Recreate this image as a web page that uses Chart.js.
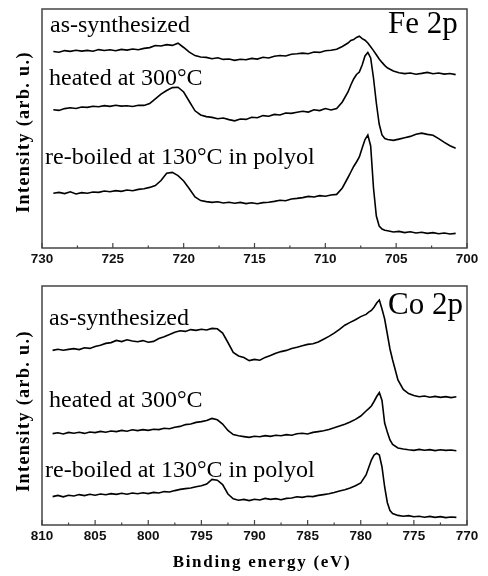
<!DOCTYPE html>
<html>
<head>
<meta charset="utf-8">
<script src="https://cdn.jsdelivr.net/npm/chart.js@4.4.1/dist/chart.umd.min.js"></script>
<style>
  html, body { margin: 0; background: #fff; }
  #wrap { position: relative; width: 488px; height: 576px; }
  canvas { position: absolute; left: 0; }
  #fe { top: 0; }
  #co { top: 270px; }
</style>
</head>
<body>
<div id="wrap">
  <canvas id="fe" width="488" height="270"></canvas>
  <canvas id="co" width="488" height="306"></canvas>
</div>
<script>
// Fe 2p panel, binding energy (eV) and intensity (arb. u.)
const feEnergy = [729.2, 728.8, 728.4, 728.0, 727.6, 727.2, 726.8, 726.4, 726.0, 725.6,
  725.2, 724.8, 724.4, 724.0, 723.6, 723.2, 722.8, 722.4, 722.0, 721.6,
  721.2, 720.8, 720.4, 720.0, 719.6, 719.2, 718.8, 718.4, 718.0, 717.6,
  717.2, 716.8, 716.4, 716.0, 715.6, 715.2, 714.8, 714.4, 714.0, 713.6,
  713.2, 712.8, 712.4, 712.0, 711.6, 711.2, 710.8, 710.4, 710.0, 709.6,
  709.2, 708.8, 708.4, 708.2, 708.0, 707.8, 707.6, 707.4, 707.2, 707.0,
  706.8, 706.6, 706.4, 706.2, 706.0, 705.8, 705.6, 705.2, 704.8, 704.4,
  704.0, 703.6, 703.2, 702.8, 702.4, 702.0, 701.6, 701.2, 700.8];

const feAsSynth = [196.5, 195.8, 197.4, 196.6, 197.8, 196.9, 197.6, 196.8, 198.4, 197.5,
  198.2, 197.3, 198.6, 197.9, 199.0, 198.2, 199.6, 200.4, 202.5, 202.0,
  203.4, 202.6, 204.8, 200.5, 195.8, 192.4, 191.0, 190.6, 189.3, 190.2,
  188.6, 189.0, 187.6, 188.8, 188.2, 189.6, 188.9, 190.8, 190.0, 191.8,
  192.5, 192.0, 193.8, 194.2, 194.9, 194.3, 196.0, 195.6, 197.2, 197.8,
  198.8, 201.5, 205.0, 207.5, 208.4, 210.6, 211.8, 209.4, 207.8, 205.0,
  201.2, 197.4, 193.2, 189.0, 185.6, 182.4, 180.0, 177.0, 175.2, 174.4,
  175.0, 173.8, 174.6, 175.6, 174.2, 175.0, 173.9, 174.5, 173.4];

const feHeated = [138.3, 137.6, 139.4, 140.2, 139.5, 141.0, 140.6, 141.8, 141.2, 142.4,
  141.6, 142.8, 141.9, 142.3, 141.5, 142.7, 142.6, 144.4, 149.2, 153.8,
  157.5, 160.4, 160.8, 156.0, 146.5, 137.2, 133.0, 131.4, 130.6, 129.2,
  130.0, 128.4, 127.2, 129.0, 128.6, 130.8, 130.2, 132.4, 131.8, 133.6,
  133.0, 135.0, 134.6, 135.8, 136.8, 135.9, 138.2, 137.4, 139.5, 138.0,
  139.5, 146.0, 156.0, 163.0, 169.0, 173.5, 176.0, 183.0, 192.0, 195.5,
  190.0, 170.0, 145.0, 124.0, 113.0, 109.5, 108.5, 107.6, 108.9, 110.2,
  111.6, 113.8, 114.9, 113.6, 112.8, 109.4, 105.6, 102.2, 99.8];

const feReboiled = [54.8, 55.6, 54.4, 56.2, 54.0, 55.4, 54.8, 56.0, 55.6, 57.0,
  56.2, 57.4, 56.6, 58.0, 57.2, 58.6, 59.2, 60.6, 62.4, 67.5,
  74.8, 75.6, 72.4, 67.0, 59.2, 51.0, 47.4, 46.4, 45.6, 46.2,
  45.0, 45.8, 44.8, 45.6, 44.4, 45.2, 44.2, 45.4, 45.8, 46.6,
  47.8, 47.2, 49.0, 49.6, 50.4, 51.6, 51.0, 52.4, 51.8, 53.0,
  53.6, 60.0, 70.5, 76.0, 81.5, 86.0, 91.0, 100.0, 108.5, 113.0,
  102.0, 60.0, 32.0, 22.0, 19.0, 17.8, 17.2, 16.0, 16.6, 15.4,
  16.2, 15.0, 15.8, 14.6, 15.4, 14.2, 15.0, 14.0, 14.6];

// Co 2p panel
const coEnergy = [809.0, 808.5, 808.0, 807.5, 807.0, 806.5, 806.0, 805.5, 805.0, 804.5,
  804.0, 803.5, 803.0, 802.5, 802.0, 801.5, 801.0, 800.5, 800.0, 799.5,
  799.0, 798.5, 798.0, 797.5, 797.0, 796.5, 796.0, 795.5, 795.0, 794.5,
  794.0, 793.5, 793.0, 792.5, 792.0, 791.5, 791.0, 790.5, 790.0, 789.5,
  789.0, 788.5, 788.0, 787.5, 787.0, 786.5, 786.0, 785.5, 785.0, 784.5,
  784.0, 783.5, 783.0, 782.5, 782.0, 781.5, 781.0, 780.5, 780.0, 779.5,
  779.25, 779.0, 778.75, 778.5, 778.25, 778.0, 777.75, 777.5, 777.25, 777.0,
  776.5, 776.0, 775.5, 775.0, 774.5, 774.0, 773.5, 773.0, 772.5, 772.0,
  771.5, 771.0];

const coAsSynth = [174.6, 175.8, 174.8, 175.6, 176.4, 175.4, 177.2, 176.6, 178.6, 179.8,
  181.6, 182.4, 184.6, 183.4, 185.2, 184.0, 183.2, 184.4, 182.8, 183.6,
  186.4, 188.2, 190.4, 192.8, 194.2, 193.6, 195.4, 194.6, 195.8, 195.0,
  196.6, 196.2, 192.0, 182.5, 172.5, 169.0, 167.4, 164.4, 165.6, 164.8,
  167.6, 169.4, 171.8, 173.4, 174.6, 176.6, 177.8, 179.2, 180.6, 181.2,
  183.0, 185.8, 188.6, 191.8, 195.6, 199.8, 202.6, 205.2, 208.4, 210.6,
  212.8, 214.6, 217.8, 222.0, 225.0, 216.0, 206.0, 191.0, 176.0, 165.0,
  145.0, 135.5, 131.4, 129.6, 128.2, 129.0, 127.8, 128.6, 127.6, 128.4,
  127.4, 128.2];

const coHeated = [91.4, 92.2, 91.0, 92.6, 91.8, 92.8, 91.6, 93.0, 92.4, 93.6,
  92.8, 94.0, 93.4, 94.6, 93.8, 95.2, 94.4, 95.4, 94.6, 95.8,
  95.4, 96.8, 96.2, 97.8, 98.6, 100.4, 101.0, 102.6, 103.4, 104.4,
  106.6, 105.2, 101.0, 94.6, 90.4, 89.2, 88.4, 87.6, 88.8, 88.2,
  89.4, 88.6, 89.8, 89.2, 90.4, 89.8, 91.2, 91.8, 91.0, 92.6,
  93.4, 94.2, 95.6, 97.2, 99.0, 100.8, 103.0, 105.6, 109.0, 114.0,
  116.4, 119.0, 123.5, 128.5, 132.5, 124.5, 102.0, 93.0, 85.0, 80.5,
  77.0, 76.0, 75.2, 74.6, 75.6, 74.8, 75.4, 74.4, 75.2, 74.6,
  75.0, 74.2];

const coReboiled = [28.4, 29.6, 28.2, 29.8, 29.0, 30.4, 29.4, 30.8, 29.8, 31.0,
  30.2, 31.4, 30.6, 31.8, 30.8, 32.0, 31.2, 32.2, 31.4, 32.6,
  32.0, 33.4, 33.0, 34.4, 35.6, 36.4, 37.0, 38.2, 39.2, 41.0,
  45.6, 44.8, 40.4, 31.0, 26.2, 24.8, 25.6, 24.4, 25.8, 25.0,
  26.6, 25.6, 26.4, 25.2, 26.6, 27.0, 28.2, 27.6, 28.8, 28.4,
  29.6, 30.4, 31.2, 32.4, 34.0, 35.2, 37.0, 39.2, 42.0, 50.0,
  57.5, 65.0, 70.0, 71.8, 70.0, 58.0, 38.0, 22.5, 14.5, 11.5,
  9.6, 8.8, 9.4, 8.2, 8.8, 7.8, 8.6, 7.6, 8.4, 7.4,
  8.0, 7.6];

const feTicks = [730, 725, 720, 715, 710, 705, 700];
const coTicks = [810, 805, 800, 795, 790, 785, 780, 775, 770];
const sampleNames = ['as-synthesized', 'heated at 300°C', 're-boiled at 130°C in polyol'];
const yTitle = 'Intensity (arb. u.)';
const xTitle = 'Binding energy (eV)';

const serif = '"Liberation Serif", "Times New Roman", serif';

// box round the plot area plus inward ticks on the bottom axis
const frame = {
  id: 'frame',
  afterDraw(chart) {
    const { ctx, chartArea: a } = chart;
    const x = chart.scales.x;
    const ticks = x.ticks.map((t) => t.value);
    ctx.save();
    ctx.strokeStyle = '#444';
    ctx.lineWidth = 1.5;
    ctx.strokeRect(a.left, a.top, a.right - a.left, a.bottom - a.top);
    ctx.lineWidth = 1.2;
    ctx.beginPath();
    ticks.forEach((v, i) => {
      const px = x.getPixelForValue(v);
      ctx.moveTo(px, a.bottom);
      ctx.lineTo(px, a.bottom - 5);
      if (i < ticks.length - 1) {
        const mx = x.getPixelForValue((v + ticks[i + 1]) / 2);
        ctx.moveTo(mx, a.bottom);
        ctx.lineTo(mx, a.bottom - 2.5);
      }
    });
    ctx.stroke();
    ctx.restore();
  },
};

function makeNotes(items) {
  return {
    id: 'notes',
    afterDraw(chart) {
      const ctx = chart.ctx;
      items.forEach((n) => {
        ctx.save();
        ctx.font = n.font;
        ctx.letterSpacing = n.spacing || '0px';
        ctx.fillStyle = '#000';
        ctx.textAlign = n.align || 'left';
        ctx.textBaseline = 'alphabetic';
        ctx.translate(n.x, n.y);
        if (n.rotate) ctx.rotate(n.rotate);
        ctx.fillText(n.text, 0, 0);
        ctx.restore();
      });
    },
  };
}

function series(energy, values) {
  return {
    data: energy.map((e, i) => ({ x: e, y: values[i] })),
    borderColor: '#000',
    borderWidth: 1.6,
    pointRadius: 0,
    tension: 0,
    fill: false,
  };
}

function makeChart(id, energy, curves, ticks, padTop, axisHeight, notes) {
  return new Chart(document.getElementById(id), {
    type: 'line',
    data: { datasets: curves.map((c) => series(energy, c)) },
    options: {
      responsive: false,
      animation: false,
      devicePixelRatio: 1,
      layout: { padding: { left: 42, right: 21, top: padTop, bottom: 0 } },
      plugins: { legend: { display: false }, tooltip: { enabled: false } },
      scales: {
        x: {
          type: 'linear',
          reverse: true,
          min: ticks[ticks.length - 1],
          max: ticks[0],
          afterBuildTicks: (s) => { s.ticks = ticks.map((v) => ({ value: v })); },
          afterFit: (s) => { s.height = axisHeight; },
          grid: { display: false, drawTicks: false },
          border: { display: false },
          ticks: {
            autoSkip: false,
            maxRotation: 0,
            padding: 3,
            color: '#111',
            font: { family: '"Liberation Sans", Arial, sans-serif', size: 13.5, weight: 'bold' },
          },
        },
        y: { display: false, min: 0, max: 239 },
      },
    },
    plugins: [frame, makeNotes(notes)],
  });
}

makeChart('fe', feEnergy, [feAsSynth, feHeated, feReboiled], feTicks, 9, 22, [
  { text: sampleNames[0], x: 50, y: 32, font: '24px ' + serif },
  { text: sampleNames[1], x: 49, y: 85, font: '24px ' + serif },
  { text: sampleNames[2], x: 45, y: 164, font: '24px ' + serif },
  { text: 'Fe 2p', x: 388, y: 33, font: '31px ' + serif },
  { text: yTitle, x: 29, y: 132, font: 'bold 18px ' + serif, spacing: '1.4px', align: 'center', rotate: -Math.PI / 2 },
]);

makeChart('co', coEnergy, [coAsSynth, coHeated, coReboiled], coTicks, 16, 51, [
  { text: sampleNames[0], x: 49, y: 55, font: '24px ' + serif },
  { text: sampleNames[1], x: 49, y: 137, font: '24px ' + serif },
  { text: sampleNames[2], x: 45, y: 207, font: '24px ' + serif },
  { text: 'Co 2p', x: 388, y: 44, font: '31px ' + serif },
  { text: yTitle, x: 29, y: 141, font: 'bold 18px ' + serif, spacing: '1.4px', align: 'center', rotate: -Math.PI / 2 },
  { text: xTitle, x: 262, y: 297, font: 'bold 17px ' + serif, spacing: '1.7px', align: 'center' },
]);
</script>
</body>
</html>
